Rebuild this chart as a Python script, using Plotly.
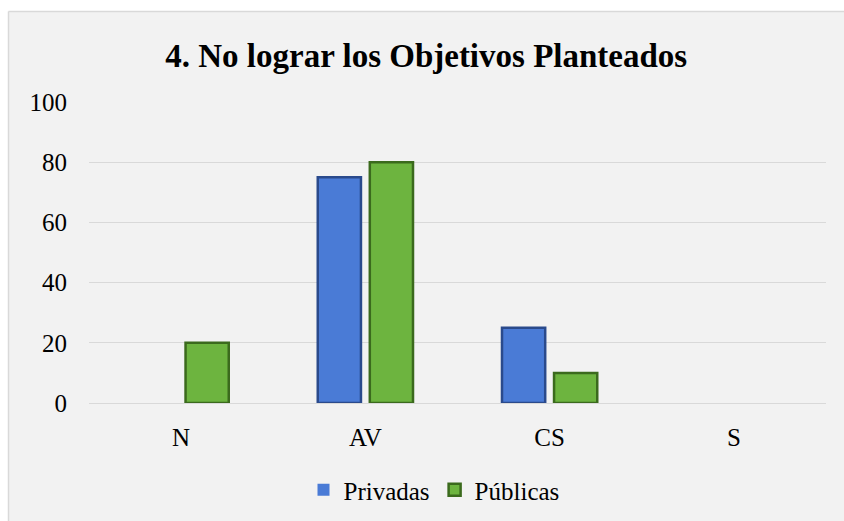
import plotly.graph_objects as go

categories = ["N", "AV", "CS", "S"]
privadas = [0, 75, 25, 0]
publicas = [20, 80, 10, 0]
y_ticks = [0, 20, 40, 60, 80, 100]

W, H = 844, 521
L, R, T, B = 89, 18, 102, 118
pw, ph = W - L - R, H - T - B

def px_x(p):
    return (p - L) / pw

def px_y(p):
    return (H - B - p) / ph

def lw(vals):
    return [0 if v == 0 else 2.5 for v in vals]

fig = go.Figure()
fig.add_trace(go.Bar(
    name="Privadas", x=categories, y=privadas,
    marker=dict(color="#4a7bd6", line=dict(color="#2a4a8c", width=lw(privadas))),
))
fig.add_trace(go.Bar(
    name="Públicas", x=categories, y=publicas,
    marker=dict(color="#6db43f", line=dict(color="#3b6a1d", width=lw(publicas))),
))

border = "#d9d9d9"
shapes = [
    dict(type="rect", xref="paper", yref="paper", x0=px_x(-5), x1=px_x(8), y0=px_y(530), y1=px_y(-5),
         fillcolor="white", line=dict(width=0), layer="above"),
    dict(type="rect", xref="paper", yref="paper", x0=px_x(-5), x1=px_x(850), y0=px_y(11), y1=px_y(-5),
         fillcolor="white", line=dict(width=0), layer="above"),
    dict(type="line", xref="paper", yref="paper", x0=px_x(8.5), x1=px_x(8.5), y0=px_y(530), y1=px_y(11.5),
         line=dict(color=border, width=1.5), layer="above"),
    dict(type="line", xref="paper", yref="paper", x0=px_x(8.5), x1=px_x(850), y0=px_y(11.5), y1=px_y(11.5),
         line=dict(color=border, width=1.5), layer="above"),
]

ff = "Liberation Serif"
fig.update_layout(
    width=W, height=H,
    margin=dict(l=L, r=R, t=T, b=B, autoexpand=False),
    paper_bgcolor="#f2f2f2", plot_bgcolor="#f2f2f2",
    barmode="group", bargap=0.435, bargroupgap=0.17,
    font=dict(family=ff, size=25, color="black"),
    title=dict(text="<b>4. No lograr los Objetivos Planteados</b>", x=0.505, xanchor="center",
               y=1 - 55 / H, yanchor="middle", font=dict(size=33, family=ff)),
    legend=dict(orientation="h", x=px_x(434), xanchor="center", y=px_y(490), yanchor="middle",
                font=dict(size=25, family=ff), bgcolor="rgba(0,0,0,0)", itemwidth=30,
                tracegroupgap=0),
    shapes=shapes,
    showlegend=True,
)
fig.update_xaxes(showgrid=False, showline=False, ticks="", ticklabelstandoff=17, automargin=False,
                 tickfont=dict(size=25, family=ff))
fig.update_yaxes(range=[0, 100], tickvals=y_ticks, showgrid=True, gridcolor=border, gridwidth=1,
                 zeroline=True, zerolinecolor=border, zerolinewidth=1, showline=False, ticks="",
                 automargin=False, ticklabelstandoff=21, tickfont=dict(size=25, family=ff))

fig.write_html("out.html", config={"displayModeBar": False},
               post_script="document.body.style.margin='0';document.body.style.overflow='hidden';")
